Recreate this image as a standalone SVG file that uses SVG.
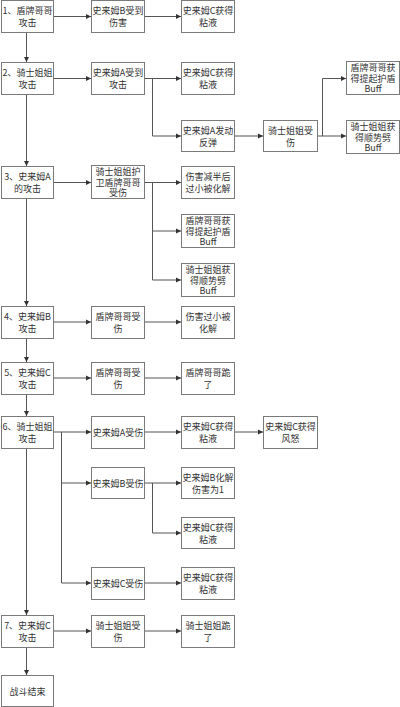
<svg xmlns="http://www.w3.org/2000/svg" width="400" height="707" viewBox="0 0 400 707">
<defs>
<style>
.b rect{fill:#fff;stroke:#7a7a7a;stroke-width:1}
.b text{font-family:"Noto Sans CJK SC","Liberation Serif",serif;font-size:9px;fill:#333;text-anchor:middle;dominant-baseline:central}
.c path{fill:none;stroke:#555;stroke-width:1}
</style>
<marker id="ah" markerWidth="6" markerHeight="6" refX="5" refY="3" orient="auto" markerUnits="userSpaceOnUse">
<path d="M0,0.5 L5,3 L0,5.5 Z" fill="#333"/>
</marker>
</defs>
<rect width="400" height="707" fill="#fff"/>
<g class="c">
<path d="M26.5,32 V62" marker-end="url(#ah)"/>
<path d="M26.5,95 V166" marker-end="url(#ah)"/>
<path d="M26.5,199 V306" marker-end="url(#ah)"/>
<path d="M26.5,338 V362" marker-end="url(#ah)"/>
<path d="M26.5,394 V416" marker-end="url(#ah)"/>
<path d="M26.5,448 V615" marker-end="url(#ah)"/>
<path d="M26.5,647 V675" marker-end="url(#ah)"/>
<path d="M53,16.5 H91" marker-end="url(#ah)"/>
<path d="M144,16.5 H181" marker-end="url(#ah)"/>
<path d="M53,78.5 H91" marker-end="url(#ah)"/>
<path d="M144,78.5 H181" marker-end="url(#ah)"/>
<path d="M152.5,78.5 V136 H181" marker-end="url(#ah)"/>
<path d="M234,136 H263" marker-end="url(#ah)"/>
<path d="M317,136 H346" marker-end="url(#ah)"/>
<path d="M322.5,136 V78.5 H346" marker-end="url(#ah)"/>
<path d="M53,182.5 H91" marker-end="url(#ah)"/>
<path d="M144,182.5 H181" marker-end="url(#ah)"/>
<path d="M152.5,182.5 V231 H181" marker-end="url(#ah)"/>
<path d="M152.5,231 V280 H181" marker-end="url(#ah)"/>
<path d="M53,322 H91" marker-end="url(#ah)"/>
<path d="M144,322 H181" marker-end="url(#ah)"/>
<path d="M53,378 H91" marker-end="url(#ah)"/>
<path d="M144,378 H181" marker-end="url(#ah)"/>
<path d="M53,432 H91" marker-end="url(#ah)"/>
<path d="M61.5,432 V483 H91" marker-end="url(#ah)"/>
<path d="M61.5,483 V583 H91" marker-end="url(#ah)"/>
<path d="M144,432 H181" marker-end="url(#ah)"/>
<path d="M234,432 H263" marker-end="url(#ah)"/>
<path d="M144,483 H181" marker-end="url(#ah)"/>
<path d="M152.5,483 V533 H181" marker-end="url(#ah)"/>
<path d="M144,583 H181" marker-end="url(#ah)"/>
<path d="M53,631 H91" marker-end="url(#ah)"/>
<path d="M144,631 H181" marker-end="url(#ah)"/>
</g>

<g id="n1" class="b"><rect x="1.5" y="0.5" width="52" height="32"/><text x="27.5" y="10.5">1、盾牌哥哥</text><text x="27.5" y="22.5">攻击</text></g>
<g id="n2" class="b"><rect x="91.5" y="0.5" width="53" height="32"/><text x="118" y="10.5">史来姆B受到</text><text x="118" y="22.5">伤害</text></g>
<g id="n3" class="b"><rect x="181.5" y="0.5" width="53" height="32"/><text x="208" y="10.5">史来姆C获得</text><text x="208" y="22.5">粘液</text></g>

<g id="n4" class="b"><rect x="1.5" y="62.5" width="52" height="32"/><text x="27.5" y="72.5">2、骑士姐姐</text><text x="27.5" y="84.5">攻击</text></g>
<g id="n5" class="b"><rect x="91.5" y="62.5" width="53" height="32"/><text x="118" y="72.5">史来姆A受到</text><text x="118" y="84.5">攻击</text></g>
<g id="n6" class="b"><rect x="181.5" y="62.5" width="53" height="32"/><text x="208" y="72.5">史来姆C获得</text><text x="208" y="84.5">粘液</text></g>
<g id="n7" class="b"><rect x="181.5" y="120.5" width="53" height="31"/><text x="208" y="130">史来姆A发动</text><text x="208" y="142">反弹</text></g>
<g id="n8" class="b"><rect x="263.5" y="120.5" width="54" height="31"/><text x="290.5" y="130">骑士姐姐受</text><text x="290.5" y="142">伤</text></g>
<g id="n9" class="b"><rect x="346.5" y="61.5" width="53" height="33"/><text x="373" y="67.5">盾牌哥哥获</text><text x="373" y="78">得提起护盾</text><text x="373" y="88.5">Buff</text></g>
<g id="n10" class="b"><rect x="346.5" y="120.5" width="53" height="33"/><text x="373" y="126.5">骑士姐姐获</text><text x="373" y="137">得顺势劈</text><text x="373" y="147.5">Buff</text></g>

<g id="n11" class="b"><rect x="1.5" y="166.5" width="52" height="32"/><text x="27.5" y="176.5">3、史来姆A</text><text x="27.5" y="188.5">的攻击</text></g>
<g id="n12" class="b"><rect x="91.5" y="165.5" width="53" height="33"/><text x="118" y="171.5">骑士姐姐护</text><text x="118" y="182">卫盾牌哥哥</text><text x="118" y="192.5">受伤</text></g>
<g id="n13" class="b"><rect x="181.5" y="166.5" width="53" height="32"/><text x="208" y="176.5">伤害减半后</text><text x="208" y="188.5">过小被化解</text></g>
<g id="n14" class="b"><rect x="181.5" y="214.5" width="53" height="33"/><text x="208" y="220.5">盾牌哥哥获</text><text x="208" y="231">得提起护盾</text><text x="208" y="241.5">Buff</text></g>
<g id="n15" class="b"><rect x="181.5" y="263.5" width="53" height="33"/><text x="208" y="269.5">骑士姐姐获</text><text x="208" y="280">得顺势劈</text><text x="208" y="290.5">Buff</text></g>

<g id="n16" class="b"><rect x="1.5" y="306.5" width="52" height="32"/><text x="27.5" y="316.5">4、史来姆B</text><text x="27.5" y="328.5">攻击</text></g>
<g id="n17" class="b"><rect x="91.5" y="306.5" width="53" height="32"/><text x="118" y="316.5">盾牌哥哥受</text><text x="118" y="328.5">伤</text></g>
<g id="n18" class="b"><rect x="181.5" y="306.5" width="53" height="32"/><text x="208" y="316.5">伤害过小被</text><text x="208" y="328.5">化解</text></g>

<g id="n19" class="b"><rect x="1.5" y="362.5" width="52" height="32"/><text x="27.5" y="372.5">5、史来姆C</text><text x="27.5" y="384.5">攻击</text></g>
<g id="n20" class="b"><rect x="91.5" y="362.5" width="53" height="32"/><text x="118" y="372.5">盾牌哥哥受</text><text x="118" y="384.5">伤</text></g>
<g id="n21" class="b"><rect x="181.5" y="362.5" width="53" height="32"/><text x="208" y="372.5">盾牌哥哥跪</text><text x="208" y="384.5">了</text></g>

<g id="n22" class="b"><rect x="1.5" y="416.5" width="52" height="32"/><text x="27.5" y="426.5">6、骑士姐姐</text><text x="27.5" y="438.5">攻击</text></g>
<g id="n23" class="b"><rect x="91.5" y="416.5" width="53" height="32"/><text x="118" y="432">史来姆A受伤</text></g>
<g id="n24" class="b"><rect x="181.5" y="416.5" width="53" height="32"/><text x="208" y="426.5">史来姆C获得</text><text x="208" y="438.5">粘液</text></g>
<g id="n25" class="b"><rect x="263.5" y="416.5" width="54" height="32"/><text x="290.5" y="426.5">史来姆C获得</text><text x="290.5" y="438.5">风怒</text></g>
<g id="n26" class="b"><rect x="91.5" y="467.5" width="53" height="31"/><text x="118" y="483">史来姆B受伤</text></g>
<g id="n27" class="b"><rect x="181.5" y="467.5" width="53" height="31"/><text x="208" y="477">史来姆B化解</text><text x="208" y="489">伤害为1</text></g>
<g id="n28" class="b"><rect x="181.5" y="517.5" width="53" height="31"/><text x="208" y="527">史来姆C获得</text><text x="208" y="539">粘液</text></g>
<g id="n29" class="b"><rect x="91.5" y="567.5" width="53" height="32"/><text x="118" y="583">史来姆C受伤</text></g>
<g id="n30" class="b"><rect x="181.5" y="567.5" width="53" height="32"/><text x="208" y="577.5">史来姆C获得</text><text x="208" y="589.5">粘液</text></g>

<g id="n31" class="b"><rect x="1.5" y="615.5" width="52" height="32"/><text x="27.5" y="625.5">7、史来姆C</text><text x="27.5" y="637.5">攻击</text></g>
<g id="n32" class="b"><rect x="91.5" y="615.5" width="53" height="32"/><text x="118" y="625.5">骑士姐姐受</text><text x="118" y="637.5">伤</text></g>
<g id="n33" class="b"><rect x="181.5" y="615.5" width="53" height="32"/><text x="208" y="625.5">骑士姐姐跪</text><text x="208" y="637.5">了</text></g>

<g id="n34" class="b"><rect x="1.5" y="675.5" width="52" height="31"/><text x="27.5" y="691">战斗结束</text></g>
</svg>
